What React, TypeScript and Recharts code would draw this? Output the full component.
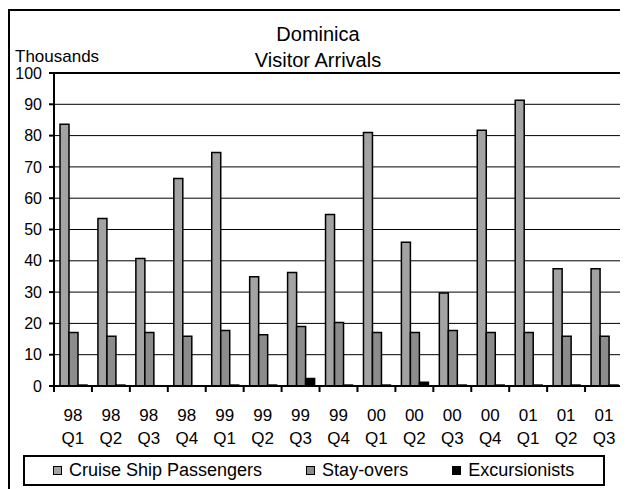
import { BarChart, Bar, XAxis, YAxis, CartesianGrid, Legend, ReferenceArea } from "recharts";

const FONT = '"Liberation Sans", Arial, sans-serif';

// Quarterly arrivals, in thousands
const quarters = [
  "98 Q1", "98 Q2", "98 Q3", "98 Q4",
  "99 Q1", "99 Q2", "99 Q3", "99 Q4",
  "00 Q1", "00 Q2", "00 Q3", "00 Q4",
  "01 Q1", "01 Q2", "01 Q3",
];
const cruiseShip = [83.6, 53.5, 40.7, 66.3, 74.6, 34.9, 36.3, 54.8, 81.0, 45.9, 29.7, 81.7, 91.3, 37.5, 37.5];
const stayOvers = [17.1, 15.9, 17.1, 15.9, 17.7, 16.4, 19.0, 20.3, 17.1, 17.1, 17.7, 17.1, 17.1, 15.9, 15.9];
const excursionists = [0.3, 0.3, 0, 0, 0.3, 0.3, 2.4, 0.3, 0.3, 1.2, 0.3, 0.3, 0.3, 0.3, 0.3];
const yTicks = [0, 10, 20, 30, 40, 50, 60, 70, 80, 90, 100];

const series = [
  { key: "cruise", name: "Cruise Ship Passengers", color: "#a3a3a3" },
  { key: "stay", name: "Stay-overs", color: "#8c8c8c" },
  { key: "excursion", name: "Excursionists", color: "#000000" },
];

const data = quarters.map((q, i) => ({
  quarter: q,
  cruise: cruiseShip[i],
  stay: stayOvers[i],
  excursion: excursionists[i],
}));

// two-line quarter label, tick marks sit on the category boundaries
function QuarterTick(props: any) {
  const { x, y, payload, index } = props;
  const half = payload && payload.offset ? payload.offset : 19;
  const [yr, q] = String(payload.value).split(" ");
  const last = index === quarters.length - 1;
  return (
    <g>
      <line x1={x - half} x2={x - half} y1={y} y2={y + 6} stroke="#000" strokeWidth={2} />
      {last && <line x1={x + half} x2={x + half} y1={y} y2={y + 6} stroke="#000" strokeWidth={2} />}
      <text x={x} y={y + 35} textAnchor="middle" fontSize={17} fontFamily={FONT} fill="#000">{yr}</text>
      <text x={x} y={y + 58} textAnchor="middle" fontSize={17} fontFamily={FONT} fill="#000">{q}</text>
    </g>
  );
}

// boxed legend, kept in series order
function LegendBox(props: any) {
  const order = series.map((s) => s.name);
  const items = [...(props.payload || [])].sort(
    (a: any, b: any) => order.indexOf(a.value) - order.indexOf(b.value)
  );
  return (
    <div
      style={{
        boxSizing: "border-box",
        height: 31,
        border: "2px solid #000",
        display: "flex",
        alignItems: "center",
        paddingLeft: 28,
        gap: 44,
        fontFamily: FONT,
        fontSize: 18,
        color: "#000",
        background: "#fff",
      }}
    >
      {items.map((it: any) => (
        <div key={it.value} style={{ display: "flex", alignItems: "center" }}>
          <span
            style={{
              display: "inline-block",
              boxSizing: "border-box",
              width: 9,
              height: 9,
              background: it.color,
              border: "1.5px solid #000",
              marginRight: 7,
            }}
          />
          <span>{it.value}</span>
        </div>
      ))}
    </div>
  );
}

export default function App() {
  return (
    <div
      style={{
        position: "relative",
        boxSizing: "border-box",
        width: 620,
        height: 480,
        marginTop: 1,
        borderTop: "2px solid #000",
        borderLeft: "2px solid #000",
        borderRight: "2px solid #000",
        background: "#fff",
        fontFamily: FONT,
      }}
    >
      <div style={{ position: "absolute", left: 0, width: 616, top: 10, textAlign: "center", fontSize: 20, lineHeight: "26px", color: "#000" }}>
        Dominica
        <br />
        Visitor Arrivals
      </div>
      <div style={{ position: "absolute", left: 5, top: 36, fontSize: 17, color: "#000" }}>Thousands</div>
      <div style={{ position: "absolute", left: 0, top: 50 }}>
        <BarChart
          width={616}
          height={428}
          data={data}
          margin={{ top: 12, right: 3, bottom: 3, left: 0 }}
          barCategoryGap={6}
          barGap={0}
        >
          <CartesianGrid vertical={false} stroke="#000" strokeWidth={1} />
          <XAxis
            dataKey="quarter"
            height={69}
            tickLine={false}
            tickSize={0}
            tickMargin={0}
            axisLine={{ stroke: "#000", strokeWidth: 2 }}
            interval={0}
            tick={<QuarterTick />}
          />
          <YAxis
            width={44}
            domain={[0, 100]}
            ticks={yTicks}
            interval={0}
            tickSize={5}
            tickMargin={7}
            tickLine={{ stroke: "#000", strokeWidth: 2 }}
            axisLine={{ stroke: "#000", strokeWidth: 2 }}
            tick={{ fontSize: 16, fontFamily: FONT, fill: "#000" }}
          />
          {series.map((s) => (
            <Bar
              key={s.key}
              dataKey={s.key}
              name={s.name}
              fill={s.color}
              stroke="#000"
              strokeWidth={1.5}
              isAnimationActive={false}
            />
          ))}
          <ReferenceArea y1={0} y2={100} fill="none" stroke="#000" strokeWidth={2} ifOverflow="visible" />
          <Legend
            verticalAlign="bottom"
            align="left"
            content={<LegendBox />}
            wrapperStyle={{ left: 13, width: 582 }}
          />
        </BarChart>
      </div>
    </div>
  );
}
